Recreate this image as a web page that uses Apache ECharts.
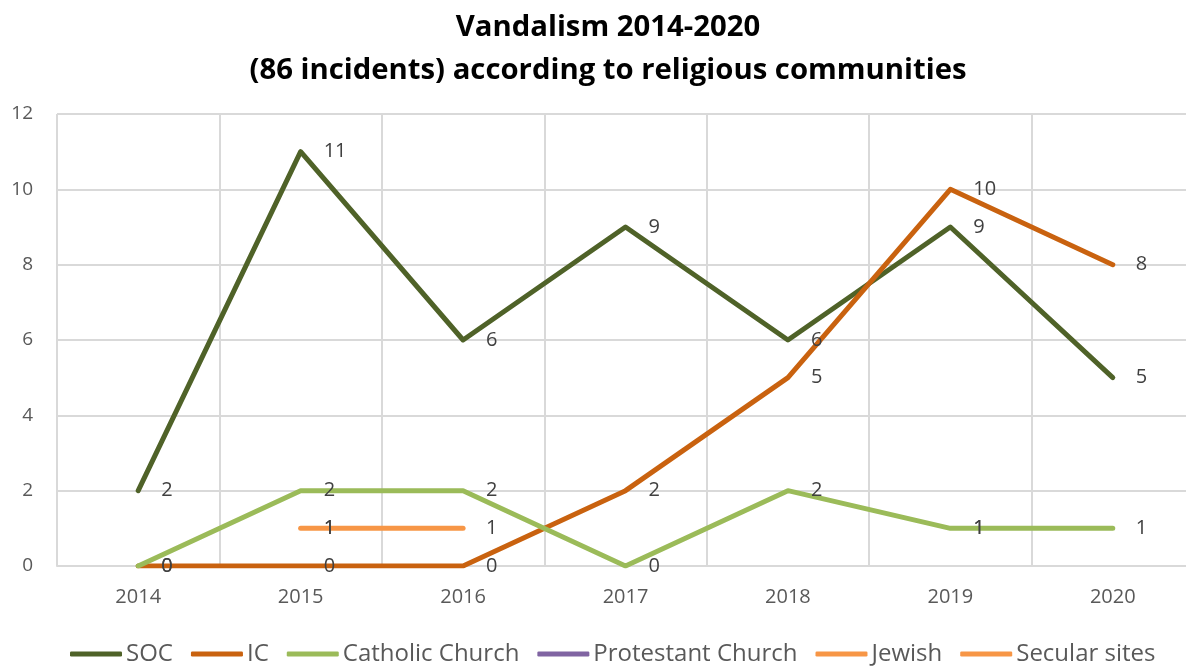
<!DOCTYPE html>
<html lang="en">
<head>
    <meta charset="UTF-8">
    <script src="https://cdn.jsdelivr.net/npm/echarts@6/dist/echarts.min.js"></script>
    <title>Vandalism 2014-2020</title>
    <style>
        html, body { margin: 0; padding: 0; background: #fff; overflow: hidden; }
        #main { width: 1200px; height: 666px; }
    </style>
</head>
<body>
<div id="main"></div>
<script type="text/javascript">
    // categories
    var years = ['2014', '2015', '2016', '2017', '2018', '2019', '2020'];
    // series values (null = no incident reported)
    var soc = [2, 11, 6, 9, 6, 9, 5];
    var ic = [0, 0, 0, 2, 5, 10, 8];
    var catholic = [0, 2, 2, 0, 2, 1, 1];
    var protestant = [null, null, null, null, null, 1, null];
    var jewish = [null, 1, 1, null, null, null, null];
    var secular = [null, 1, null, null, null, null, null];

    var font = '"Open Sans", "Noto Sans", sans-serif';

    function makeSeries(name, data, color) {
        return {
            name: name,
            type: 'line',
            data: data,
            showSymbol: true,
            showAllSymbol: true,
            symbol: 'circle',
            symbolSize: 0,
            connectNulls: false,
            lineStyle: { width: 5, color: color, cap: 'round', join: 'round' },
            itemStyle: { color: color },
            label: {
                show: true,
                position: 'right',
                distance: 23,
                fontFamily: font,
                fontSize: 20,
                color: '#404040'
            },
            emphasis: { disabled: true }
        };
    }

    // chart is a bit wider than the window so the plot runs off the right edge
    var myChart = echarts.init(document.getElementById('main'));
    var option = {
        backgroundColor: '#fff',
        animation: false,
        title: {
            text: 'Vandalism 2014-2020\n(86 incidents) according to religious communities',
            left: 603,
            textAlign: 'center',
            top: 1,
            textStyle: {
                fontFamily: font,
                fontSize: 29.3,
                fontWeight: 'bold',
                color: '#000',
                lineHeight: 43
            }
        },
        legend: {
            bottom: -5,
            left: 65,
            icon: 'roundRect',
            itemWidth: 52,
            itemHeight: 5,
            itemGap: 18,
            textStyle: { fontFamily: font, fontSize: 24, color: '#595959', padding: [0, 0, 0, -1] },
            data: ['SOC', 'IC', 'Catholic Church', 'Protestant Church', 'Jewish', 'Secular sites']
        },
        grid: {
            left: 57,
            right: 6,
            top: 114,
            bottom: 100
        },
        xAxis: {
            type: 'category',
            data: years,
            boundaryGap: true,
            axisLine: { show: true, lineStyle: { color: '#d9d9d9', width: 2 } },
            axisTick: { show: false },
            splitLine: { show: true, lineStyle: { color: '#d9d9d9', width: 2 } },
            axisLabel: { fontFamily: font, fontSize: 20, color: '#595959', margin: 21 }
        },
        yAxis: {
            type: 'value',
            min: 0,
            max: 12,
            interval: 2,
            axisLine: { show: false },
            axisTick: { show: false },
            splitLine: { show: true, lineStyle: { color: '#d9d9d9', width: 2 } },
            axisLabel: { fontFamily: font, fontSize: 19, color: '#595959', margin: 24 }
        },
        series: [
            makeSeries('SOC', soc, '#4f6228'),
            makeSeries('IC', ic, '#c9620f'),
            makeSeries('Catholic Church', catholic, '#9bbb59'),
            makeSeries('Protestant Church', protestant, '#8064a2'),
            makeSeries('Jewish', jewish, '#f79646'),
            makeSeries('Secular sites', secular, '#f79646')
        ]
    };
    myChart.setOption(option);
</script>
</body>
</html>
